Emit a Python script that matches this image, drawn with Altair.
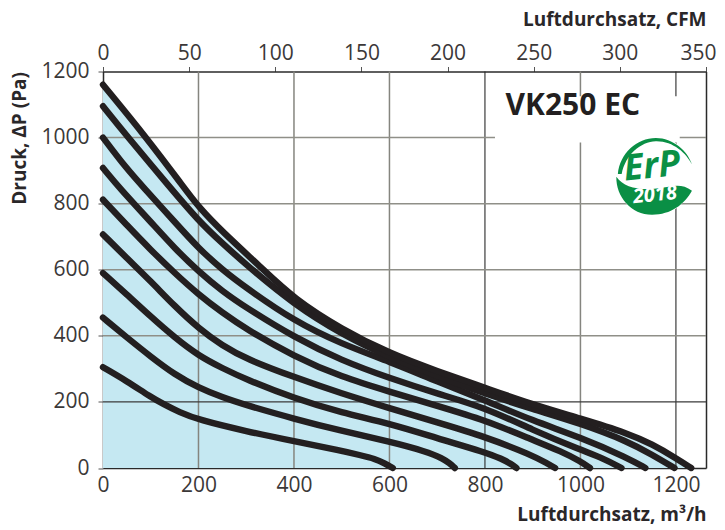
import altair as alt
import pandas as pd

xs = [
 [0,50,100,126,160,200,300,400,500,538,570,590,607],
 [0,50,100,150,200,250,300,400,500,600,677,712,725,737],
 [0,50,100,150,200,250,300,400,500,600,700,800,835,855,866],
 [0,50,100,150,200,250,300,400,500,600,700,800,900,930,947],
 [0,50,100,150,200,250,300,400,500,600,700,800,900,960,1000,1020],
 [0,36,100,150,200,250,300,400,500,600,700,800,900,1000,1050,1086],
 [0,50,85,150,200,250,300,400,500,600,700,800,900,1000,1100,1136],
 [0,50,137,200,250,300,400,500,600,700,800,900,1000,1100,1150,1197],
 [0,91,168,200,250,329,400,500,600,700,800,900,1000,1100,1150,1200,1232],
]
ys = [
 [305,263,215,194,169,146,111,81,52,39,28,14,0],
 [455,395,337,283,243,214,190,149,112,80,50,29,15,0],
 [590,525,458,395,340,302,268,211,167,135,90,48,28,12,0],
 [707,635,565,490,423,370,330,275,225,181,138,95,38,14,0],
 [812,735,660,590,525,470,420,338,275,231,188,145,85,50,20,0],
 [908,845,745,665,595,535,485,396,325,272,225,183,115,55,28,0],
 [1000,905,849,745,665,600,545,445,375,322,262,205,143,93,30,0],
 [1095,1005,855,748,680,615,495,405,335,278,225,178,135,80,40,0],
 [1160,1000,852,790,715,610,512,420,347,293,243,192,150,105,72,30,0],
]
cfm_ticks = [0,50,100,150,200,250,300,350]
x_ticks = [0,200,400,600,800,1000,1200]
y_ticks = [0,200,400,600,800,1000,1200]
light_x = [200,400,600,1000]
dark_x = [800,1200]
light_y = [400,600,800,1000]
dark_y = [200]

rows = [{"curve": i, "order": j, "q": a, "p": b}
        for i, (cx, cy) in enumerate(zip(xs, ys)) for j, (a, b) in enumerate(zip(cx, cy))]
df = pd.DataFrame(rows)
top = pd.DataFrame({"q": xs[-1], "p": ys[-1]})

FONT = "Open Sans"
xscale = alt.Scale(domain=[0, 1263], nice=False, zero=False)
yscale = alt.Scale(domain=[0, 1200], nice=False, zero=False)

X = alt.X("q:Q", scale=xscale, axis=None)
Y = alt.Y("p:Q", scale=yscale, axis=None)

fill = alt.Chart(top).mark_area(color="#c5e8f2", interpolate="basis").encode(x=X, y=Y)

def vrules(vals, color, w):
    return alt.Chart(pd.DataFrame({"q": vals})).mark_rule(color=color, strokeWidth=w).encode(x=X)

def hrules(vals, color, w):
    return alt.Chart(pd.DataFrame({"p": vals})).mark_rule(color=color, strokeWidth=w).encode(y=Y)

grid = vrules(light_x, "#85857f", 1.5) + vrules(dark_x, "#2a2a2a", 1.1) + hrules(light_y, "#8f8f88", 1.5) + hrules(dark_y, "#3a3a3a", 1.1)

title_bg = alt.Chart(pd.DataFrame({"q": [821], "q2": [1208], "p": [1125], "p2": [985]})).mark_rect(color="white").encode(
    x=X, x2="q2:Q", y=Y, y2="p2:Q")

logo = pd.DataFrame({"q": [1154], "p": [884]})
logo_bg = alt.Chart(logo).mark_circle(color="white", size=6200, opacity=1).encode(x=X, y=Y)
LEAF = "M-0.99,0.02 C-0.8,0.3 -0.4,0.38 0.07,0.33 C0.4,0.3 0.7,0.15 1,0.39 C0.8,0.75 0.45,1.02 -0.05,1.02 C-0.6,1.02 -1,0.55 -0.99,0.02 Z"
ARC = "M-0.95,-0.05 C-0.9,-0.6 -0.45,-1 0.05,-1 C0.5,-1 0.9,-0.65 1,-0.3 C0.85,-0.6 0.5,-0.92 0.05,-0.91 C-0.35,-0.9 -0.75,-0.55 -0.85,-0.05 Z"
leaf = alt.Chart(logo).mark_point(shape=LEAF, filled=True, color="#0a8f45", size=5776, opacity=1).encode(x=X, y=Y)
arc = alt.Chart(logo).mark_point(shape=ARC, filled=True, color="#0a8f45", size=5776, opacity=1).encode(x=X, y=Y)
erp = alt.Chart(pd.DataFrame({"q": [1150], "p": [912], "t": ["ErP"]})).mark_text(
    font=FONT, fontWeight="bold", fontStyle="italic", fontSize=36, color="#0a8f45", angle=354, align="center", baseline="middle"
).encode(x=X, y=Y, text="t:N")
yr = alt.Chart(pd.DataFrame({"q": [1156], "p": [826], "t": ["2018"]})).mark_text(
    font=FONT, fontWeight="bold", fontStyle="italic", fontSize=20, color="white", angle=354, align="center", baseline="middle"
).encode(x=X, y=Y, text="t:N")

heading = alt.Chart(pd.DataFrame({"q": [843], "p": [1095], "t": ["VK250 EC"]})).mark_text(
    font=FONT, fontWeight="bold", fontSize=30, color="#231f20", align="left", baseline="middle"
).encode(x=X, y=Y, text="t:N")

curves = alt.Chart(df).mark_line(color="#231f20", strokeWidth=6.4, strokeCap="round", strokeJoin="round", interpolate="basis").encode(
    x=X, y=Y, detail="curve:N", order="order:Q")

axis_common = dict(labelFont=FONT, labelFontSize=21, labelColor="#3b3838", titleFont=FONT, titleFontSize=19,
                   titleFontWeight="bold", titleColor="#2a2729", domainColor="#2a2a2a", tickColor="#555555", grid=False, format="d")

bottom_axes = alt.Chart(pd.DataFrame({"q": [0], "p": [0]})).mark_point(opacity=0).encode(
    x=alt.X("q:Q", scale=xscale, axis=alt.Axis(values=x_ticks, orient="bottom", title="Luftdurchsatz, m³/h", titleAnchor="end",
        titlePadding=10, labelPadding=6, tickSize=0, domainWidth=1.5, labelFlush=False, **axis_common)),
    y=alt.Y("p:Q", scale=yscale, axis=alt.Axis(values=y_ticks, orient="left", title="Druck, ΔP (Pa)", titleAnchor="end",
        titlePadding=11, labelPadding=9, tickSize=5, domain=True, domainWidth=1.5, labelFlush=False, **axis_common)),
)
top_axes = alt.Chart(pd.DataFrame({"cfm": [0], "p": [0]})).mark_point(opacity=0).encode(
    x=alt.X("cfm:Q", scale=alt.Scale(domain=[0, 350], nice=False, zero=False),
        axis=alt.Axis(values=cfm_ticks, orient="top", title="Luftdurchsatz, CFM", titleAnchor="end",
        titlePadding=13, labelPadding=3, tickSize=5, domainWidth=1.5, labelFlush=False,
        labelOffset=alt.expr("datum.value == 350 ? -8 : 0"), **axis_common)),
    y=alt.Y("p:Q", scale=yscale, axis=alt.Axis(orient="right", labels=False, ticks=False, title=None, domainWidth=1.5, domainColor="#2a2a2a", grid=False)),
)

chart = alt.layer(
    fill, grid, title_bg, logo_bg, leaf, arc, erp, yr, heading, curves, bottom_axes, top_axes
).resolve_scale(x="independent", y="independent").properties(
    width=603, height=396.5,
    autosize=alt.AutoSizeParams(type="none"),
    padding={"left": 95, "top": 63.5, "right": 11, "bottom": 60},
).configure_view(stroke=None)

chart.save("out.html", embed_options={"renderer": "svg", "actions": False})
